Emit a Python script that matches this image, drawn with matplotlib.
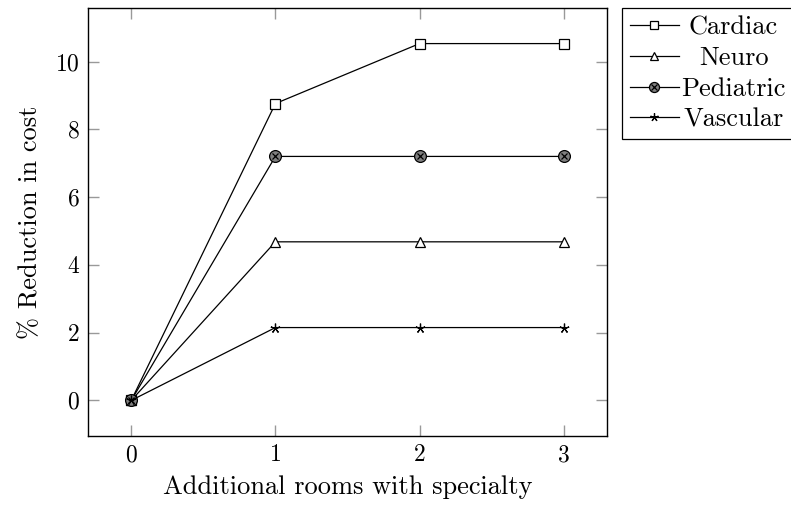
import matplotlib.pyplot as plt
import numpy as np

plt.rcParams['font.family'] = 'serif'
plt.rcParams['font.serif'] = ['cmr10']
plt.rcParams['mathtext.fontset'] = 'cm'
plt.rcParams['axes.formatter.use_mathtext'] = True

# rooms added vs. % cost reduction
rooms = [0, 1, 2, 3]
cardiac = [0, 8.76, 10.53, 10.53]
neuro = [0, 4.68, 4.68, 4.68]
pediatric = [0, 7.2, 7.2, 7.2]
vascular = [0, 2.15, 2.15, 2.15]

fig = plt.figure(figsize=(7.91, 5.08), dpi=100)
ax = fig.add_axes([88 / 791, 72 / 508, 519 / 791, 428 / 508])

lw = 0.9
h1, = ax.plot(rooms, cardiac, color='black', lw=lw, marker='s', ms=7,
              mfc='white', mec='black', mew=0.9)
h2, = ax.plot(rooms, neuro, color='black', lw=lw, marker='^', ms=7,
              mfc='white', mec='black', mew=0.9)
h3, = ax.plot(rooms, pediatric, color='black', lw=lw, marker='o', ms=8.5,
              mfc='#7f7f7f', mec='black', mew=0.9)
h3x, = ax.plot(rooms, pediatric, color='black', lw=0, marker='x', ms=5,
               mew=0.9)
h4, = ax.plot(rooms, vascular, color='black', lw=lw, marker=(5, 2, 0), ms=7,
              mew=0.9)

ax.set_xlim(-0.3, 3.3)
ax.set_ylim(-1.05, 11.58)
ax.set_xticks(rooms)
ax.set_yticks([0, 2, 4, 6, 8, 10])
ax.tick_params(direction='in', top=True, right=True, length=8, width=1,
               color='0.6', labelsize=17, pad=6)
for s in ax.spines.values():
    s.set_linewidth(1)

ax.set_xlabel('Additional rooms with specialty', fontsize=19, labelpad=6)
ax.set_ylabel('% Reduction in cost', fontsize=19, labelpad=9)

leg = fig.legend([h1, h2, (h3, h3x), h4],
                 ['Cardiac', 'Neuro', 'Pediatric', 'Vascular'],
                 loc='upper left', bbox_to_anchor=(622 / 791, 1 - 8 / 508),
                 bbox_transform=fig.transFigure, fontsize=19,
                 fancybox=False, framealpha=1, edgecolor='black',
                 borderpad=0.3, handlelength=1.85, handletextpad=0.1,
                 labelspacing=0.26, borderaxespad=0, markerscale=0.85)
leg.get_frame().set_linewidth(0.9)

# center the entry texts in their column
fig.canvas.draw()
texts = leg.get_texts()
widths = [t.get_window_extent().width for t in texts]
for t, w in zip(texts, widths):
    t.set_x((max(widths) - w) / 2)

plt.savefig('out.png', dpi=100)
